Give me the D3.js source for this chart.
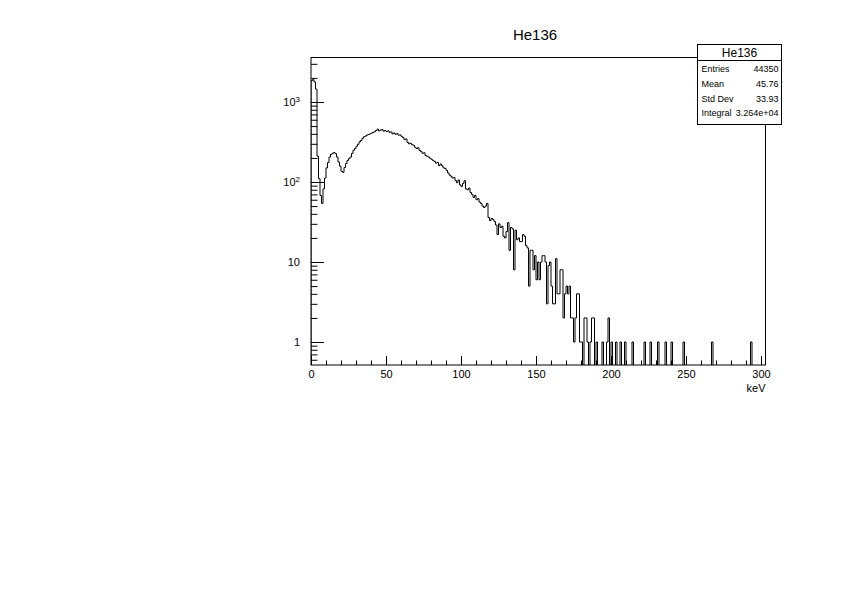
<!DOCTYPE html>
<html><head><meta charset="utf-8">
<script src="https://cdn.jsdelivr.net/npm/d3@7"></script>
<style>body{margin:0;background:#fff} svg{font-family:"Liberation Sans",Arial,sans-serif}</style>
</head><body><svg id="c" width="842" height="595"></svg>
<script>
// ---- data ----
const histTitle = "He136";
const xAxisTitle = "keV";
const binLow = 0, binWidth = 1;
const counts = [
1850,1900,1780,1450,210,110,68,54,82,112,
150,175,205,222,228,234,226,205,178,158,
136,132,152,170,186,196,205,228,250,262,
280,296,318,330,352,368,375,386,392,400,
408,418,424,440,458,436,445,452,432,440,
428,435,418,422,400,410,395,402,385,388,
372,360,338,345,312,300,305,292,288,272,
262,268,248,240,228,232,214,210,205,198,
192,186,180,172,176,160,168,160,150,148,
140,130,122,118,112,114,104,98,106,92,
88,96,104,82,80,84,74,70,64,68,
60,62,56,54,50,48,50,54,36,33,
35,34,32,29,22,30,27,28,21,20,
24,31,14,27,26,8,25,19,20,18,
18,22,21,16,15,5,14,14,8,12,
6,10,6,10,12,12,10,3,9,10,
5,3,3,11,4,4,8,8,2,4,
5,4,5,2,2,1,2,4,4,1,
1,0,2,2,1,0,1,2,2,0,
1,0,0,0,1,0,0,1,2,0,
1,0,0,1,0,0,1,0,0,1,
0,0,0,0,1,0,0,0,0,0,
0,0,1,0,0,0,1,0,0,0,
0,1,0,0,0,0,1,0,0,0,
1,0,0,0,0,0,0,0,1,0,
0,0,0,0,0,0,0,0,0,0,
0,0,0,0,0,0,0,1,0,0,
0,0,0,0,0,0,0,0,0,0,
0,0,0,0,0,0,0,0,0,0,
0,0,0,1,0,0,0,0,0,0,
0,0,0
];
const xMajorTicks = [0,50,100,150,200,250,300];
const xMinorTicks = d3.range(0, 301, 10);
const yMajorTicks = [1,10,100,1000];
const yTickLabels = [["1",""],["10",""],["10","2"],["10","3"]];
const yMinorTicks = [0.6,0.7,0.8,0.9,2,3,4,5,6,7,8,9,20,30,40,50,60,70,80,90,200,300,400,500,600,700,800,900,2000,3000];
const statNames = ["Entries","Mean","Std Dev","Integral"];
const statValues = ["44350","45.76","33.93","3.264e+04"];

// ---- layout ----
const L = 311, R = 765.5, T = 57, B = 365;
const svg = d3.select("#c");
const x = d3.scaleLinear().domain([binLow, binLow + counts.length*binWidth]).range([L, R]);
const y = d3.scaleLog().domain([0.516, 3650]).range([B, T]);

svg.append("defs").append("clipPath").attr("id","fr")
  .append("rect").attr("x",L).attr("y",T).attr("width",R-L).attr("height",B-T);

// histogram outline
const pts = [[x(binLow), B]];
counts.forEach((v,i)=>{
  const yy = v>0 ? y(v) : B+2;
  pts.push([x(binLow+i*binWidth), yy]);
  pts.push([x(binLow+(i+1)*binWidth), yy]);
});
pts.push([x(binLow+counts.length*binWidth), B+2]);
svg.append("path").attr("clip-path","url(#fr)")
  .attr("d", d3.line()(pts)).attr("fill","none").attr("stroke","#000").attr("stroke-width",1);

// x axis
const gx = svg.append("g").attr("transform",`translate(0,${B})`);
gx.call(d3.axisBottom(x).tickValues(xMinorTicks).tickSize(-4.5).tickFormat(""));
const gx2 = svg.append("g").attr("transform",`translate(0,${B})`);
gx2.call(d3.axisBottom(x).tickValues(xMajorTicks).tickSize(-9).tickPadding(6).tickFormat(d3.format("d")));
[gx,gx2].forEach(g=>{g.select(".domain").remove(); g.selectAll("line").attr("stroke","#000");});
gx2.selectAll("text").attr("font-size",11).attr("fill","#000").attr("dy","0.71em").attr("y",5);

// y axis
const gy = svg.append("g").attr("transform",`translate(${L},0)`);
gy.call(d3.axisLeft(y).tickValues(yMinorTicks).tickSize(-6.5).tickFormat(""));
const gy2 = svg.append("g").attr("transform",`translate(${L},0)`);
gy2.call(d3.axisLeft(y).tickValues(yMajorTicks).tickSize(-13).tickFormat(""));
[gy,gy2].forEach(g=>{g.select(".domain").remove(); g.selectAll("line").attr("stroke","#000");});
gy2.selectAll(".tick").each(function(d,i){
  const t = d3.select(this).append("text").attr("x",-11).attr("dy","0.35em")
    .attr("text-anchor","end").attr("font-size",11).attr("fill","#000");
  const lab = yTickLabels[i];
  if (lab[1]) {
    t.append("tspan").text(lab[0]);
    t.append("tspan").attr("font-size",8).attr("dy","-0.6em").text(lab[1]);
  } else t.text(lab[0]);
});

// frame
svg.append("rect").attr("x",L).attr("y",T+0.5).attr("width",R-L).attr("height",B-T-0.5)
  .attr("fill","none").attr("stroke","#000").attr("stroke-width",1);

// titles
svg.append("text").attr("x",535).attr("y",40).attr("text-anchor","middle")
  .attr("font-size",15).text(histTitle);
svg.append("text").attr("x",R).attr("y",392).attr("text-anchor","end")
  .attr("font-size",11).text(xAxisTitle);

// stats box
const sb = {x0:697.5, x1:781.5, y0:44.5, y1:124.5, hd:60.5};
svg.append("rect").attr("x",sb.x0).attr("y",sb.y0).attr("width",sb.x1-sb.x0).attr("height",sb.y1-sb.y0)
  .attr("fill","#fff").attr("stroke","#000");
svg.append("line").attr("x1",sb.x0).attr("x2",sb.x1).attr("y1",sb.hd).attr("y2",sb.hd).attr("stroke","#000");
svg.append("text").attr("x",(sb.x0+sb.x1)/2).attr("y",57).attr("text-anchor","middle")
  .attr("font-size",12).text(histTitle);
statNames.forEach((n,i)=>{
  const yy = 72 + i*14.8;
  svg.append("text").attr("x",sb.x0+4).attr("y",yy).attr("font-size",9).text(n);
  svg.append("text").attr("x",sb.x1-3).attr("y",yy).attr("text-anchor","end").attr("font-size",9).text(statValues[i]);
});
</script>
</body></html>
